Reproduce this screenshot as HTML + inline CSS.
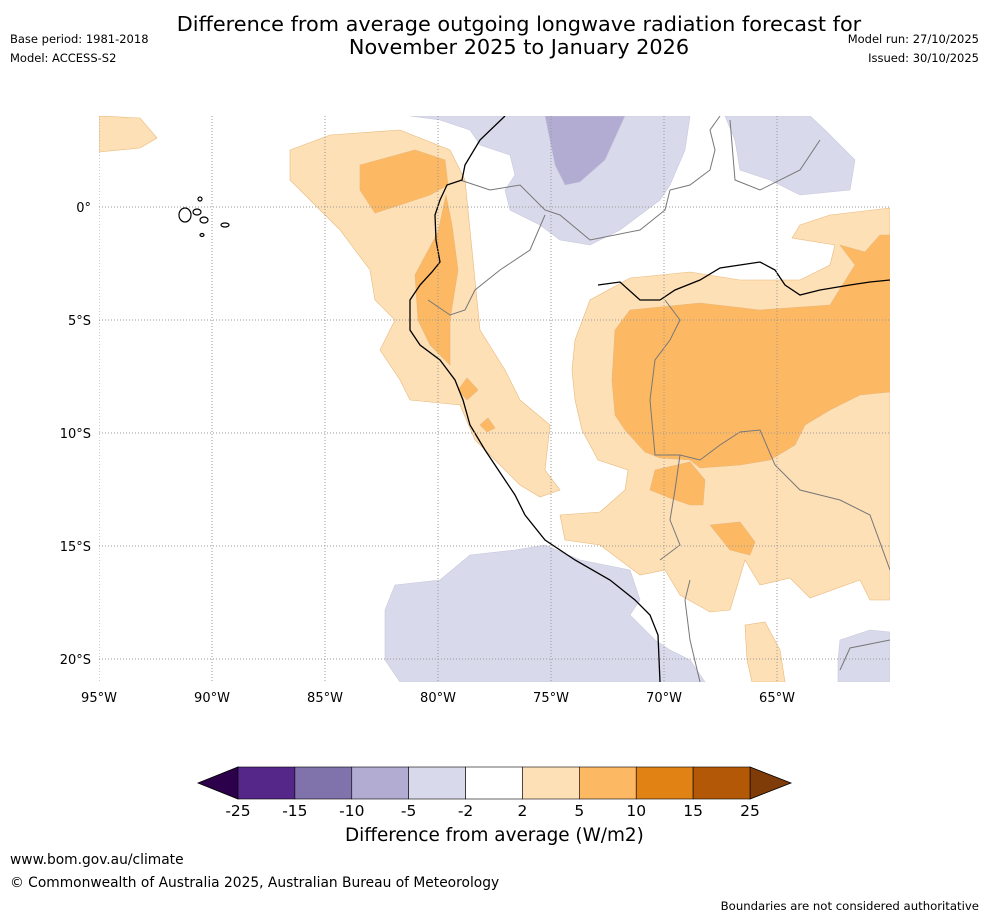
<!DOCTYPE html>
<html><head><meta charset="utf-8"><style>
body{margin:0;background:#fff;font-family:"DejaVu Sans","Liberation Sans",sans-serif;}
#wrap{position:relative;width:988px;height:919px;overflow:hidden;background:#fff}
.t{position:absolute;white-space:nowrap;color:#000}
</style></head><body>
<div id="wrap">
<div class="t" style="left:0;width:1038px;text-align:center;top:13px;font-size:20.8px;line-height:23px">Difference from average outgoing longwave radiation forecast for<br>November 2025 to January 2026</div>
<div class="t" style="left:10px;top:32px;font-size:11.5px">Base period: 1981-2018</div>
<div class="t" style="left:10px;top:51px;font-size:11.5px">Model: ACCESS-S2</div>
<div class="t" style="right:9px;top:32px;font-size:11.5px">Model run: 27/10/2025</div>
<div class="t" style="right:9px;top:51px;font-size:11.5px">Issued: 30/10/2025</div>
<svg id="map" width="988" height="919" style="position:absolute;left:0;top:0"></svg>
<div class="t" style="left:345px;top:825px;font-size:18.4px">Difference from average (W/m2)</div>
<div class="t" style="left:10px;top:852px;font-size:13.8px">www.bom.gov.au/climate</div>
<div class="t" style="left:10px;top:875px;font-size:13.8px">© Commonwealth of Australia 2025, Australian Bureau of Meteorology</div>
<div class="t" style="right:9px;top:899px;font-size:11.7px">Boundaries are not considered authoritative</div>
</div>
<script>
const lonTicks=[-95,-90,-85,-80,-75,-70,-65];
const latTicks=[0,-5,-10,-15,-20];
const levels=[-25,-15,-10,-5,-2,2,5,10,15,25];
const levelColors=["#542788","#8073ac","#b2abd2","#d8daeb","#ffffff","#fee0b6","#fdb863","#e08214","#b35806"];
const P=(pts)=>pts.map(p=>[-95+(p[0]-99)/22.6,(207-p[1])/22.6]);
const regions=[
[5,P([[99,116],[140,118],[157,138],[140,148],[99,152]])],
[5,P([[290,150],[330,135],[400,130],[450,150],[465,180],[470,230],[475,280],[480,330],[505,370],[520,400],[550,425],[545,470],[560,490],[540,497],[520,485],[495,460],[475,440],[460,405],[410,400],[400,380],[380,350],[395,320],[375,300],[370,270],[355,250],[340,230],[310,200],[290,180]])],
[6,P([[360,165],[415,150],[445,160],[448,185],[430,195],[400,205],[375,213],[360,190]])],
[6,P([[438,232],[446,195],[452,225],[458,270],[450,320],[450,365],[430,345],[418,320],[415,275]])],
[6,P([[458,390],[467,378],[478,390],[467,400]])],
[6,P([[480,425],[488,418],[495,428],[487,432]])],
[5,P([[575,340],[590,300],[630,278],[690,272],[740,280],[800,280],[830,265],[835,245],[792,238],[800,225],[830,215],[890,208],[890,600],[870,600],[860,580],[810,598],[790,578],[760,585],[745,560],[730,610],[710,612],[680,595],[665,570],[640,575],[600,545],[565,540],[560,515],[600,512],[625,490],[628,470],[598,460],[582,430],[575,400],[572,370]])],
[6,P([[615,330],[630,310],[700,303],[760,310],[830,305],[855,265],[840,245],[865,252],[880,235],[890,235],[890,392],[860,395],[830,410],[805,425],[795,445],[770,460],[740,465],[700,468],[690,460],[660,458],[645,452],[625,430],[615,415],[612,380]])],
[6,P([[650,490],[655,470],[690,462],[705,480],[703,505],[690,505],[670,498]])],
[6,P([[710,525],[740,522],[755,542],[750,555],[730,550]])],
[5,P([[745,625],[765,622],[780,650],[785,682],[752,682],[747,660]])],
[3,P([[410,116],[690,116],[685,150],[670,185],[660,200],[640,215],[620,230],[590,245],[560,240],[540,225],[510,210],[505,190],[515,175],[510,155],[480,145],[470,130],[440,120]])],
[2,P([[545,116],[625,116],[605,160],[580,182],[565,185],[555,165]])],
[3,P([[725,116],[810,116],[825,130],[855,160],[850,190],[800,195],[770,180],[740,170],[735,140]])],
[3,P([[385,610],[395,585],[440,580],[470,555],[515,550],[545,545],[580,560],[630,570],[640,600],[630,615],[655,640],[670,650],[690,660],[705,682],[400,682],[385,660]])],
[3,P([[840,640],[870,630],[890,632],[890,682],[838,682],[838,660]])]
];
const coast=P([[505,116],[480,140],[465,165],[462,180],[447,185],[440,200],[435,215],[436,240],[440,262],[432,272],[420,285],[410,300],[410,330],[420,345],[440,360],[455,380],[463,400],[470,425],[485,450],[505,480],[515,495],[525,515],[545,540],[575,560],[610,580],[635,600],[650,615],[658,635],[660,682]]);
const river=P([[598,285],[620,282],[640,300],[660,300],[675,290],[700,280],[720,268],[740,265],[760,262],[775,270],[785,285],[800,295],[820,290],[850,285],[870,282],[890,280]]);
const borders=[
P([[460,180],[490,190],[520,185],[545,210],[560,215],[590,240],[640,230],[665,210],[670,190],[690,185],[710,170],[715,150],[710,130],[720,116]]),
P([[730,120],[735,180],[760,190],[800,170],[820,140]]),
P([[428,300],[450,315],[465,310],[475,290],[500,270],[530,250],[545,215]]),
P([[665,300],[680,320],[670,340],[655,360],[650,400],[655,455],[680,455],[700,460],[720,445],[740,432],[760,430],[775,465],[800,490],[840,500],[870,515],[890,570]]),
P([[680,455],[675,490],[670,520],[680,545],[660,560]]),
P([[690,580],[685,600],[690,640],[700,682]]),
P([[890,640],[850,648],[840,670]])
];
const svg=document.getElementById('map');
const NS='http://www.w3.org/2000/svg';
const x0=99,x1=890,y0=116,y1=682;
const xs=lon=>x0+(lon+95)*(x1-x0)/35;
const ys=lat=>207-lat*22.6;
function mk(t,a){const e=document.createElementNS(NS,t);for(const k in a)e.setAttribute(k,a[k]);svg.appendChild(e);return e;}
const clip=mk('clipPath',{id:'cp'});
const cr=document.createElementNS(NS,'rect');cr.setAttribute('x',x0);cr.setAttribute('y',y0);cr.setAttribute('width',x1-x0);cr.setAttribute('height',y1-y0);clip.appendChild(cr);
const g=mk('g',{'clip-path':'url(#cp)'});


function add(par,t,a){const e=document.createElementNS(NS,t);for(const k in a)e.setAttribute(k,a[k]);par.appendChild(e);return e;}
const pstr=pts=>pts.map(p=>xs(p[0]).toFixed(1)+','+ys(p[1]).toFixed(1)).join(' ');
regions.forEach((r,i)=>{
 const c=levelColors[r[0]];
 const e=add(g,'polygon',{points:pstr(r[1]),fill:c,stroke:r[0]>=5?'#e8b87a':'#c8c8dc','stroke-width':0.6});
 
 
});
borders.forEach((b,i)=>{
 const e=add(g,'polyline',{points:pstr(b),fill:'none',stroke:'#777','stroke-width':1});
 
 
});
const cl=add(g,'polyline',{points:pstr(coast),fill:'none',stroke:'#000','stroke-width':1.3});


const rv=add(g,'polyline',{points:pstr(river),fill:'none',stroke:'#000','stroke-width':1.3});


[[185,215,6,7],[197,212,4,3],[204,220,4,3],[200,199,2,2],[202,235,2,1.5],[225,225,4,2]].forEach((q,i)=>{
 const e=add(g,'ellipse',{cx:q[0],cy:q[1],rx:q[2],ry:q[3],fill:'none',stroke:'#000','stroke-width':1.2});
 
 
});
lonTicks.forEach(l=>{
 const x=xs(l);
 const e=add(g,'line',{x1:x,x2:x,y1:y0,y2:y1,stroke:'#999','stroke-width':1,'stroke-dasharray':'1,2'});
 
 
 const t=mk('text',{x:x,y:y1+20,'font-size':13,'text-anchor':'middle','font-family':'DejaVu Sans, sans-serif'});
 t.textContent=Math.abs(l)+'°W';
 
 
});
latTicks.forEach(l=>{
 const y=ys(l);
 const e=add(g,'line',{x1:x0,x2:x1,y1:y,y2:y,stroke:'#999','stroke-width':1,'stroke-dasharray':'1,2'});
 
 
 const t=mk('text',{x:x0-8,y:y+5,'font-size':13,'text-anchor':'end','font-family':'DejaVu Sans, sans-serif'});
 t.textContent=l===0?'0°':Math.abs(l)+'°S';
 
 
});
const cb0=238,cb1=750,cy0=767,cy1=799;
const seg=(cb1-cb0)/levelColors.length;
const lt=mk('polygon',{points:`${cb0},${cy0} ${cb0},${cy1} 198,${(cy0+cy1)/2}`,fill:'#2d004b',stroke:'#000','stroke-width':0.8});


const rt=mk('polygon',{points:`${cb1},${cy0} ${cb1},${cy1} 791,${(cy0+cy1)/2}`,fill:'#7f3b08',stroke:'#000','stroke-width':0.8});


levelColors.forEach((c,i)=>{
 const e=mk('rect',{x:cb0+i*seg,y:cy0,width:seg,height:cy1-cy0,fill:c,stroke:'#000','stroke-width':0.6});
 
 
});
levels.forEach((v,i)=>{
 const t=mk('text',{x:cb0+i*seg,y:816,'font-size':15.5,'text-anchor':'middle','font-family':'DejaVu Sans, sans-serif'});
 t.textContent=v;
 
 
});
</script>
</body></html>
